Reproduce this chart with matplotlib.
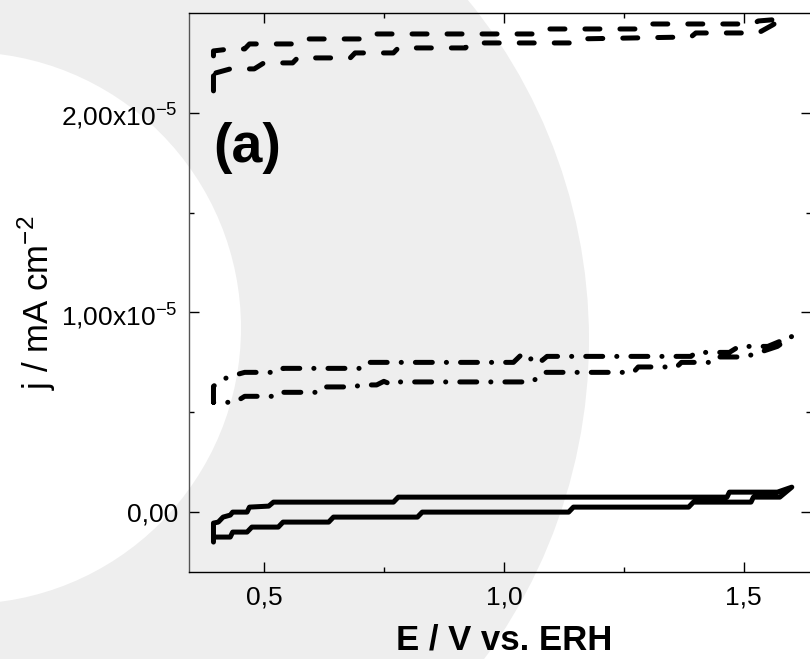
import matplotlib
matplotlib.use('Agg')
import matplotlib.pyplot as plt
from matplotlib.patches import Circle
from matplotlib.ticker import FixedLocator, FixedFormatter
import numpy as np

plt.rcParams['font.family'] = 'Liberation Sans'
plt.rcParams['mathtext.fontset'] = 'custom'
plt.rcParams['mathtext.rm'] = 'Liberation Sans'
plt.rcParams['lines.scale_dashes'] = False

# current density values are in units of 1e-5 mA cm^-2
# dashed curve (top)
E_dash_fwd = [0.395, 0.395, 0.43, 0.46, 0.47, 0.56, 0.57, 0.72, 0.73, 1.08, 1.09, 1.30, 1.31, 1.52, 1.53, 1.58]
j_dash_fwd = [2.11, 2.31, 2.32, 2.32, 2.345, 2.345, 2.37, 2.37, 2.395, 2.395, 2.42, 2.42, 2.445, 2.445, 2.46, 2.47]
E_dash_rev = [1.58, 1.56, 1.53, 1.40, 1.39, 1.15, 1.14, 0.93, 0.92, 0.78, 0.77, 0.69, 0.68, 0.57, 0.56, 0.50, 0.48, 0.43, 0.40]
j_dash_rev = [2.47, 2.44, 2.40, 2.40, 2.38, 2.37, 2.35, 2.35, 2.325, 2.325, 2.30, 2.30, 2.275, 2.275, 2.25, 2.25, 2.22, 2.22, 2.20]

# dash-dot curve (middle)
E_dd_fwd = [0.395, 0.395, 0.41, 0.43, 0.46, 0.53, 0.54, 0.70, 0.71, 1.02, 1.035, 1.05, 1.065, 1.08, 1.09, 1.39, 1.40, 1.47, 1.49, 1.55, 1.57, 1.60]
j_dd_fwd = [0.55, 0.63, 0.66, 0.68, 0.70, 0.70, 0.72, 0.72, 0.75, 0.75, 0.785, 0.755, 0.785, 0.76, 0.78, 0.78, 0.80, 0.80, 0.83, 0.83, 0.85, 0.88]
E_dd_rev = [1.60, 1.57, 1.52, 1.50, 1.44, 1.43, 1.37, 1.36, 1.28, 1.27, 1.08, 1.06, 0.78, 0.765, 0.75, 0.735, 0.70, 0.69, 0.62, 0.61, 0.54, 0.53, 0.46, 0.44, 0.395]
j_dd_rev = [0.88, 0.83, 0.79, 0.777, 0.777, 0.75, 0.75, 0.727, 0.727, 0.70, 0.70, 0.652, 0.652, 0.64, 0.655, 0.637, 0.637, 0.627, 0.627, 0.60, 0.60, 0.58, 0.58, 0.55, 0.55]

# solid curve (bottom)
E_sol_fwd = [0.395, 0.395, 0.405, 0.415, 0.43, 0.435, 0.465, 0.47, 0.51, 0.52, 0.77, 0.78, 1.465, 1.47, 1.57, 1.60]
j_sol_fwd = [-0.15, -0.055, -0.05, -0.025, -0.015, 0.0, 0.0, 0.025, 0.03, 0.05, 0.05, 0.075, 0.075, 0.10, 0.10, 0.125]
E_sol_rev = [1.60, 1.575, 1.52, 1.515, 1.395, 1.385, 1.145, 1.135, 0.83, 0.82, 0.645, 0.635, 0.54, 0.53, 0.475, 0.465, 0.435, 0.43, 0.395]
j_sol_rev = [0.125, 0.075, 0.075, 0.05, 0.05, 0.025, 0.025, 0.0, 0.0, -0.025, -0.025, -0.05, -0.05, -0.075, -0.075, -0.10, -0.10, -0.125, -0.125]

x_ticks = [0.5, 1.0, 1.5]
x_labels = ['0,5', '1,0', '1,5']
y_ticks = [0.0, 1e-5, 2e-5]
y_labels = ['0,00', '1,00x10$^{\\mathregular{-5}}$', '2,00x10$^{\\mathregular{-5}}$']

fig = plt.figure(figsize=(8.1, 6.59), dpi=100)

# light grey watermark ring behind the plot (pixel coordinates)
fig.add_artist(Circle((51, 319), 538, transform=None, color='#eeeeee', zorder=-2, lw=0))
fig.add_artist(Circle((-35, 331), 276, transform=None, color='white', zorder=-1, lw=0))

ax = fig.add_axes([189 / 810, 87 / 659, 622 / 810, 559 / 659])
ax.set_facecolor('none')

lw = 3.6
ax.plot(E_dash_fwd + E_dash_rev, np.array(j_dash_fwd + j_dash_rev) * 1e-5, color='k', lw=lw,
        linestyle=(0, (10.8, 14.4)), dash_capstyle='round', solid_joinstyle='round')
ax.plot(E_dd_fwd + E_dd_rev, np.array(j_dd_fwd + j_dd_rev) * 1e-5, color='k', lw=lw,
        linestyle=(0, (12.2, 10.1, 0.1, 10.1)), dash_capstyle='round', solid_joinstyle='round')
ax.plot(E_sol_fwd + E_sol_rev, np.array(j_sol_fwd + j_sol_rev) * 1e-5, color='k', lw=lw,
        solid_capstyle='round', solid_joinstyle='round')

ax.set_xlim(0.344, 1.64)
ax.set_ylim(-0.3e-5, 2.5e-5)

ax.xaxis.set_major_locator(FixedLocator(x_ticks))
ax.xaxis.set_major_formatter(FixedFormatter(x_labels))
ax.xaxis.set_minor_locator(FixedLocator([0.75, 1.25]))
ax.yaxis.set_major_locator(FixedLocator(y_ticks))
ax.yaxis.set_major_formatter(FixedFormatter(y_labels))
ax.yaxis.set_minor_locator(FixedLocator([0.5e-5, 1.5e-5]))

ax.tick_params(which='both', direction='in', top=True, right=True, width=1)
ax.tick_params(which='major', length=7.2, labelsize=19)
ax.tick_params(axis='x', which='major', pad=10)
ax.tick_params(axis='y', which='major', pad=8)
ax.tick_params(which='minor', length=3.8)
for s in ax.spines.values():
    s.set_linewidth(1.0)
ax.spines['left'].set_color('#555555')

fig.text(213 / 810, 1 - 148 / 659, '(a)', fontsize=40, fontweight='bold', ha='left', va='center')
fig.text(0.046, 0.54, 'j / mA cm$^{\\mathregular{-2}}$', rotation=90, fontsize=25, ha='center', va='center')
fig.text(0.622, 0.014, 'E / V vs. ERH', fontsize=25, fontweight='bold', ha='center', va='baseline')

fig.savefig('out.png', dpi=100)
